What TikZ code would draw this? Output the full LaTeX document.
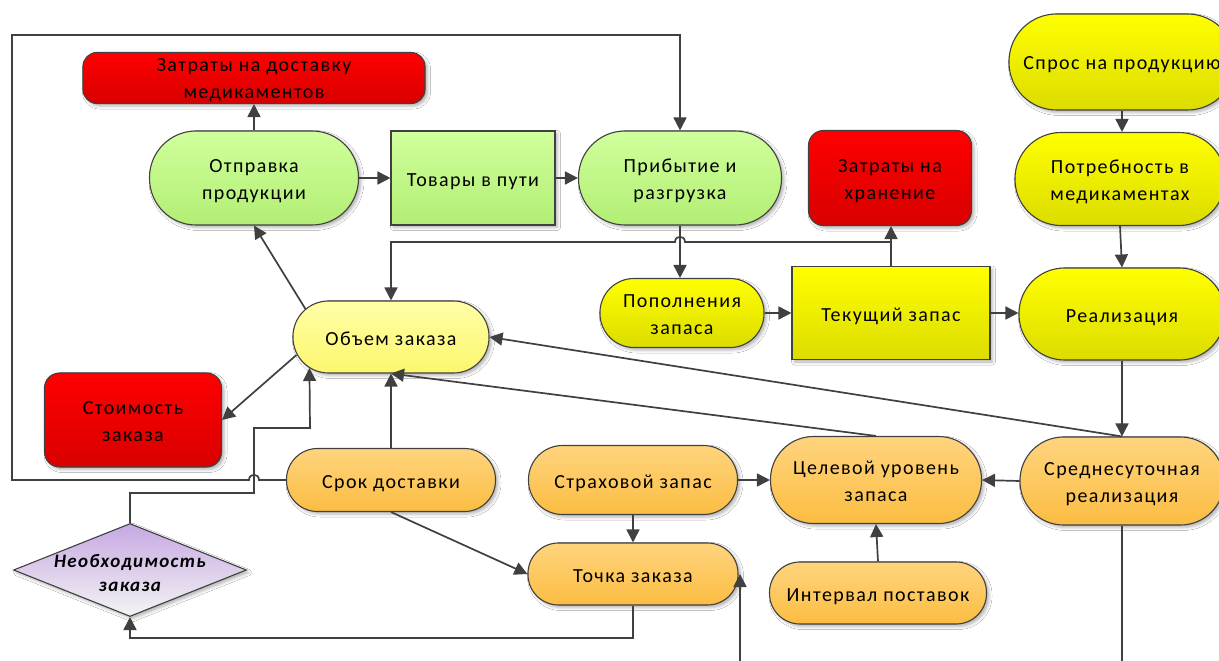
\documentclass[tikz,border=0pt]{standalone}
\usepackage{fontspec}
\setmainfont{Carlito}[LetterSpace=7]
\usetikzlibrary{shapes.geometric,shadows.blur,calc,arrows.meta}

\definecolor{edge}{HTML}{404040}
\definecolor{redA}{HTML}{FF0000}
\definecolor{redB}{HTML}{D80000}
\definecolor{grnA}{HTML}{D0FF9C}
\definecolor{grnB}{HTML}{B2EE74}
\definecolor{yelA}{HTML}{FFFF00}
\definecolor{yelB}{HTML}{DCDC00}
\definecolor{ltyA}{HTML}{FFFFA8}
\definecolor{ltyB}{HTML}{FCF66C}
\definecolor{orgA}{HTML}{FFD47E}
\definecolor{orgB}{HTML}{FBBD42}
\definecolor{lavA}{HTML}{C6A8E2}
\definecolor{lavB}{HTML}{F4F4F4}

\tikzset{
  box/.style={draw=edge, line width=1.1pt, align=center, inner sep=0pt,
    font=\fontsize{20}{27}\selectfont, text height=21pt, text depth=5pt,
    blur shadow={shadow xshift=2.5pt, shadow yshift=-2.5pt,
      shadow blur radius=3pt, shadow opacity=30}},
  twoline/.style={text height=48pt, text depth=5pt},
  stad/.style n args={3}{box, rectangle, minimum width=#1, minimum height=#2,
    rounded corners=#3},
  plainbox/.style 2 args={box, rectangle, minimum width=#1, minimum height=#2},
  fillred/.style={top color=redA, bottom color=redB},
  fillgrn/.style={top color=grnA, bottom color=grnB},
  fillyel/.style={top color=yelA, bottom color=yelB},
  filllty/.style={top color=ltyA, bottom color=ltyB},
  fillorg/.style={top color=orgA, bottom color=orgB},
  filllav/.style={top color=lavA, bottom color=lavB},
  wire/.style={draw=edge, line width=1.7pt},
  conn/.style={wire, -{Triangle[length=13pt,width=13pt]}},
}

\begin{document}
\begin{tikzpicture}[x=1pt, y=-1pt]
\clip (0,0) rectangle (1219,661);
\fill[white] (0,0) rectangle (1219,661);

% delivery branch
\node[stad={342}{51}{14}, fillred, text height=46pt, text depth=4pt] (zatD) at (254,78) {Затраты на доставку\\медикаментов};
\node[stad={209}{94}{46.5}, fillgrn, twoline] (otpr) at (254,178) {Отправка\\продукции};
\node[plainbox={164}{94}, fillgrn] (tov) at (473,178) {Товары в пути};
\node[stad={203}{94}{46.5}, fillgrn, twoline] (prib) at (680,178) {Прибытие и\\разгрузка};
\node[stad={163}{95}{15}, fillred, twoline] (zatH) at (890,178) {Затраты на\\хранение};

% demand branch
\node[stad={226}{96}{47.5}, fillyel] (spros) at (1122,62) {Спрос на продукцию};
\node[stad={210}{93}{46}, fillyel, twoline] (potr) at (1120,179) {Потребность в\\медикаментах};
\node[stad={206}{92}{45.5}, fillyel] (real) at (1122,314) {Реализация};
\node[stad={164}{69}{34}, fillyel, twoline] (popol) at (682,313) {Пополнения\\запаса};
\node[plainbox={198}{93}, fillyel] (tek) at (891,313) {Текущий запас};

% ordering
\node[stad={196}{72}{35.5}, filllty] (obem) at (391,337) {Объем заказа};
\node[stad={177}{94}{15}, fillred, twoline] (stoim) at (133,420) {Стоимость\\заказа};
\node[stad={209}{63}{31}, fillorg] (srok) at (391,480) {Срок доставки};
\node[stad={209}{69}{34}, fillorg] (strah) at (633,480) {Страховой запас};
\node[stad={210}{62}{30.5}, fillorg] (tochka) at (633,574) {Точка заказа};
\node[stad={211}{87}{43}, fillorg, twoline] (cel) at (876,480) {Целевой уровень\\запаса};
\node[stad={217}{62}{30.5}, fillorg] (interv) at (878,593) {Интервал поставок};
\node[stad={204}{88}{43.5}, fillorg, twoline] (sred) at (1122,481) {Среднесуточная\\реализация};
\node[box, diamond, minimum width=233, minimum height=93, inner sep=0pt, filllav,
  text height=0pt, text depth=0pt,
  label={[font=\bfseries\itshape\fontsize{19}{24}\selectfont, align=center, yshift=-3pt]center:Необходимость\\заказа}]
  (neob) at (130,570) {};

% helper points
\coordinate (obemA) at ($(obem.west)+(13,-28)$);
\coordinate (obemB) at ($(obem.west)+(17,31)$);
\coordinate (obemC) at ($(obem.west)+(4,18)$);
\coordinate (bus) at (0,242);
\coordinate (loopTL) at (12,35);
\coordinate (d1) at (254,493);
\coordinate (d2) at (310,428);
\coordinate (bl) at (130,638);
\coordinate (offA) at (740,670);
\coordinate (offB) at (1122,670);

% straight connectors
\draw[conn] (otpr.north) -- (zatD.south);
\draw[conn] (otpr.east) -- (tov.west);
\draw[conn] (tov.east) -- (prib.west);
\draw[conn] (prib.south) -- (prib.south |- popol.north);
\draw[conn] (popol.east) -- (popol.east -| tek.west);
\draw[conn] (tek.east) -- (tek.east -| real.west);
\draw[conn] (tek.north) -- (tek.north |- zatH.south);
\draw[conn] (spros.south) -- (spros.south |- potr.north);
\draw[conn] (potr.south) -- (real.north);
\draw[conn] (real.south) -- (sred.north);
\draw[conn] (sred.north) -- (obem.east);
\draw[conn] (cel.north) -- (obem.south);
\draw[conn] (srok.north) -- (obem.south);
\draw[conn] (obemA) -- (otpr.south);
\draw[conn] (obemC) -- (stoim.east);
\draw[conn] (srok.south) -- (tochka.west);
\draw[conn] (strah.east) -- (cel.west);
\draw[conn] (strah.south) -- (tochka.north);
\draw[conn] (sred.west) -- (cel.east);
\draw[conn] (interv.north) -- (cel.south);
\draw[conn] (tochka.south) |- (bl) -- (neob.south);
\draw[conn] (offA) -- (offA |- tochka.east);
\draw[wire] (sred.south) -- (offB);

% stock line over to order volume, hopping the unloading line
\draw[conn] (tek.north) -- (tek.north |- bus)
  -- ($(prib.south |- bus)+(5,0)$) .. controls +(0,-7) and +(0,-7) .. ($(prib.south |- bus)+(-5,0)$)
  -| (obem.north);

% delivery time loop back to arrival
\draw[conn] (srok.west) -- ($(srok.west -| d1)+(5,0)$)
  .. controls +(0,-7) and +(0,-7) .. ($(srok.west -| d1)+(-5,0)$)
  -- (srok.west -| loopTL) -- (loopTL) -| (prib.north);

% order need feeds the order volume
\draw[conn] (neob.north) |- (d1) |- (d2) -- (obemB);

\end{tikzpicture}
\end{document}
